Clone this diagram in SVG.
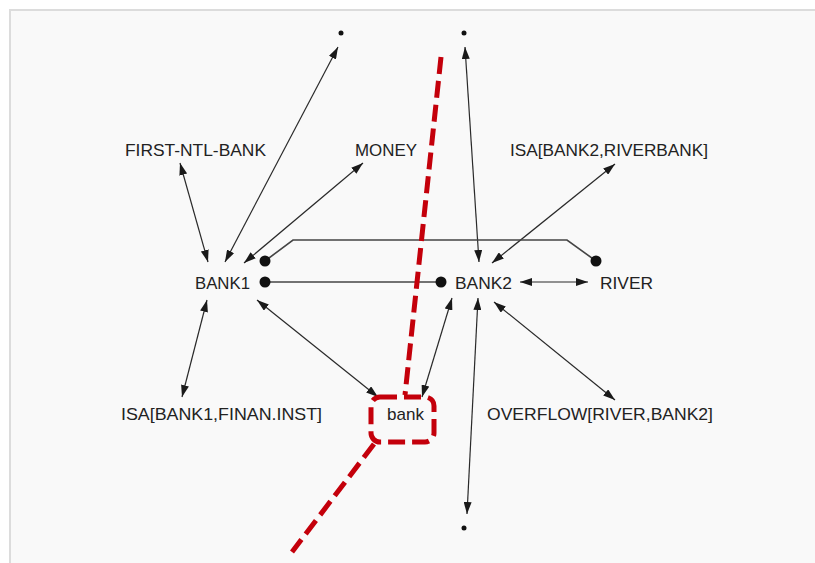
<svg xmlns="http://www.w3.org/2000/svg" width="815" height="563" viewBox="0 0 815 563">
<defs>
<marker id="ah" viewBox="0 0 12 8" refX="12" refY="4" markerWidth="12" markerHeight="8" markerUnits="userSpaceOnUse" orient="auto-start-reverse">
<path d="M0,0 L12,4 L0,8 z" fill="#1a1a1a"/>
</marker>
</defs>
<style>
.lbl{font-family:"Liberation Sans",Arial,sans-serif;font-size:17px;fill:#222}
.arr{stroke:#2a2a2a;stroke-width:1.2;fill:none;marker-start:url(#ah);marker-end:url(#ah)}
.ln{stroke:#444;stroke-width:1.6;fill:none}
.dot{fill:#111}
.red{stroke:#c4000b;stroke-width:5;fill:none;stroke-dasharray:17 7}
</style>
<rect width="815" height="563" fill="#ffffff"/>
<rect x="10" y="10" width="810" height="560" fill="#f9f9f9" stroke="#dcdcdc" stroke-width="2"/>

<g id="connectors">
<line class="arr" x1="180" y1="163" x2="208" y2="262"/>
<line class="arr" x1="338" y1="47" x2="225" y2="262"/>
<line class="arr" x1="363" y1="163" x2="244" y2="263"/>
<line class="arr" x1="465" y1="47" x2="479" y2="262"/>
<line class="arr" x1="615" y1="164" x2="492" y2="263"/>
<line class="arr" x1="520" y1="282" x2="588" y2="282"/>
<line class="arr" x1="207" y1="300" x2="182" y2="397"/>
<line class="arr" x1="257" y1="300" x2="378" y2="397"/>
<line class="arr" x1="452" y1="298" x2="422" y2="397"/>
<line class="arr" x1="478" y1="298" x2="467" y2="514"/>
<line class="arr" x1="494" y1="302" x2="615" y2="400"/>
<line class="ln" x1="265" y1="282" x2="441" y2="282"/>
<polyline class="ln" points="265,261 293,240 567,240 596,261"/>
</g>

<g id="star-top-left"><circle class="dot" cx="341" cy="33" r="2.5"/></g>
<g id="star-top-right"><circle class="dot" cx="464" cy="33" r="2.5"/></g>
<g id="star-bottom"><circle class="dot" cx="464" cy="528" r="2.5"/></g>

<g id="first-ntl-bank"><text class="lbl" x="125" y="156" textLength="141" lengthAdjust="spacingAndGlyphs">FIRST-NTL-BANK</text></g>
<g id="money"><text class="lbl" x="355" y="156" textLength="62" lengthAdjust="spacingAndGlyphs">MONEY</text></g>
<g id="isa-bank2"><text class="lbl" x="510" y="156" textLength="198" lengthAdjust="spacingAndGlyphs">ISA[BANK2,RIVERBANK]</text></g>

<g id="bank1">
<text class="lbl" x="195" y="289" textLength="55" lengthAdjust="spacingAndGlyphs">BANK1</text>
<circle class="dot" cx="265" cy="261" r="5.5"/>
<circle class="dot" cx="265" cy="282" r="5.5"/>
</g>
<g id="bank2">
<circle class="dot" cx="441" cy="282" r="5.5"/>
<text class="lbl" x="455" y="289" textLength="57" lengthAdjust="spacingAndGlyphs">BANK2</text>
</g>
<g id="river">
<circle class="dot" cx="596" cy="261" r="5.5"/>
<text class="lbl" x="600" y="289" textLength="53" lengthAdjust="spacingAndGlyphs">RIVER</text>
</g>

<g id="isa-bank1"><text class="lbl" x="121" y="420" textLength="201" lengthAdjust="spacingAndGlyphs">ISA[BANK1,FINAN.INST]</text></g>
<g id="bank-word"><text class="lbl" x="387" y="420" textLength="37" lengthAdjust="spacingAndGlyphs">bank</text></g>
<g id="overflow"><text class="lbl" x="487" y="420" textLength="226" lengthAdjust="spacingAndGlyphs">OVERFLOW[RIVER,BANK2]</text></g>

<g id="highlight">
<line class="red" x1="441" y1="57" x2="405" y2="395"/>
<rect class="red" x="371" y="397" width="63" height="45" rx="9"/>
<line class="red" x1="374" y1="444" x2="292" y2="552"/>
</g>
</svg>
